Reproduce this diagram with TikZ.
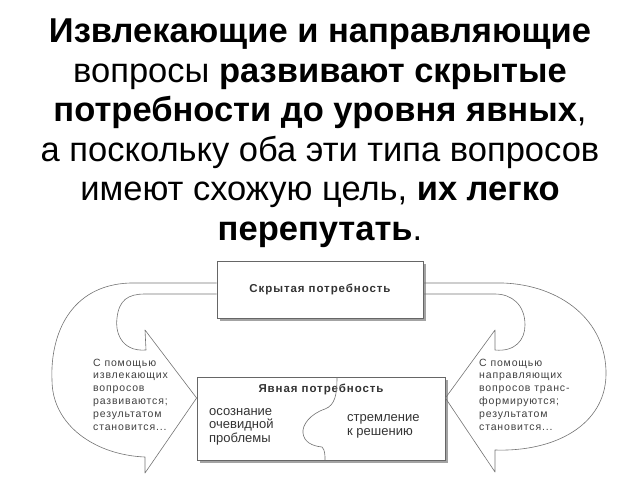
\documentclass[tikz,border=0pt]{standalone}
\usepackage{fontspec}
\setmainfont{Liberation Sans}
\newfontfamily\spacedfont[LetterSpace=8]{Liberation Sans}
\usetikzlibrary{shadows}
\newcommand{\linecol}{black!55}
\newcommand{\notecol}{black!75}
\newcommand{\boxcol}{black!80}

\begin{document}
\begin{tikzpicture}[x=1pt, y=-1pt,
    titleline/.style={anchor=base, inner sep=0pt, font=\fontsize{34.5}{40}\selectfont},
    needbox/.style={draw=black!60, fill=white, line width=0.8pt,
        drop shadow={shadow xshift=2.5pt, shadow yshift=-2.5pt, fill=black!45, opacity=0.8}},
    arrowline/.style={draw=\linecol, line width=0.6pt, line join=round},
    notetext/.style={anchor=base west, align=left, inner sep=0pt, text=\notecol,
        font=\spacedfont\fontsize{10.5}{12.8}\selectfont},
    boxtext/.style={anchor=base west, align=left, inner sep=0pt, text=\boxcol,
        font=\fontsize{13}{13.2}\selectfont}]

    \useasboundingbox (0,0) rectangle (640,480);

    \node[titleline] (t1) at (320,42) {\textbf{Извлекающие и направляющие}};
    \node[titleline] (t2) at (320,82) {вопросы \textbf{развивают скрытые}};
    \node[titleline] (t3) at (320,121) {\textbf{потребности до уровня явных},};
    \node[titleline] (t4) at (320,161) {а поскольку оба эти типа вопросов};
    \node[titleline] (t5) at (320,200) {имеют схожую цель, \textbf{их легко}};
    \node[titleline] (t6) at (320,240) {\textbf{перепутать}.};

    \node[needbox, minimum width=206pt, minimum height=57pt, text=\boxcol,
        font=\spacedfont\bfseries\fontsize{11.5}{13}\selectfont] (hidden) at (320,289.5) {Скрытая потребность};
    \node[needbox, minimum width=248pt, minimum height=83pt] (explicit) at (321,418.5) {};

    \node[anchor=base, inner sep=0pt, text=\boxcol,
        font=\spacedfont\bfseries\fontsize{11.5}{13}\selectfont] (explicittitle) at (321,392) {Явная потребность};
    \node[boxtext] (awareness) at (209,442) {осознание\\очевидной\\проблемы};
    \node[boxtext] (striving) at (347,435) {стремление\\к решению};

    \draw[\linecol, line width=0.6pt] (337,377) .. controls (337,395) and (335,405) .. (325,409)
        .. controls (310,414) and (302,425) .. (303,433)
        .. controls (304,442) and (312,446) .. (322,447)
        .. controls (325,450) and (325,455) .. (325,460);

    \draw[arrowline] ([yshift=6.5pt]hidden.west) -- (130,283)
        .. controls (70,285) and (50,335) .. (52,380)
        .. controls (52,425) and (95,455) .. (145,457)
        -- (145,473) -- ([yshift=20.5pt]explicit.west) -- (145,330) -- (146,350)
        .. controls (120,352) and (115,330) .. (117,318)
        .. controls (119,300) and (128,294) .. (145,294)
        -- ([yshift=-4.5pt]hidden.west);

    \draw[arrowline] ([yshift=6.5pt]hidden.east) -- (503,283)
        .. controls (560,285) and (607,320) .. (606,375)
        .. controls (605,425) and (555,452) .. (495,450)
        -- (495,472) -- ([yshift=20.5pt]explicit.east) -- (495,330) -- (495,350)
        .. controls (515,352) and (525,340) .. (525,325)
        .. controls (525,305) and (512,294) .. (495,294)
        -- ([yshift=-4.5pt]hidden.east);

    \node[notetext] (extracting) at (93,430) {С помощью\\извлекающих\\вопросов\\развиваются;\\результатом\\становится...};
    \node[notetext] (directing) at (479,430) {С помощью\\направляющих\\вопросов транс-\\формируются;\\результатом\\становится...};

\end{tikzpicture}
\end{document}
